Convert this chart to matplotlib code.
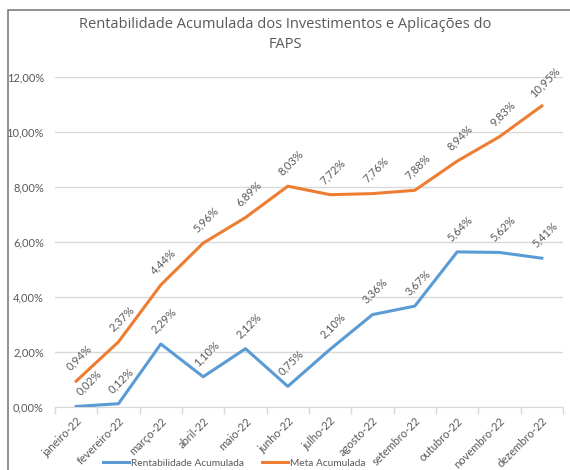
import numpy as np
import matplotlib.pyplot as plt
from matplotlib.patches import Rectangle
from matplotlib.ticker import FuncFormatter

# ============================================================================
# DONNÉES
# ============================================================================

meses = ['janeiro-22', 'fevereiro-22', 'março-22', 'abril-22', 'maio-22', 'junho-22',
         'julho-22', 'agosto-22', 'setembro-22', 'outubro-22', 'novembro-22', 'dezembro-22']
rentabilidade = [0.02, 0.12, 2.29, 1.10, 2.12, 0.75, 2.10, 3.36, 3.67, 5.64, 5.62, 5.41]
meta = [0.94, 2.37, 4.44, 5.96, 6.89, 8.03, 7.72, 7.76, 7.88, 8.94, 9.83, 10.95]

AZUL = '#5B9BD5'
LARANJA = '#ED7D31'
CINZA = '#595959'

plt.rcParams['font.family'] = ['Lato', 'DejaVu Sans']

def pct(v, pos=None):
    return f'{v:.2f}%'.replace('.', ',')

# ============================================================================
# FIGURE
# ============================================================================

fig = plt.figure(figsize=(5.7, 4.7), dpi=100)
ax = fig.add_axes([55 / 570, 1 - 407 / 470, (563 - 55) / 570, (407 - 77) / 470])

x = np.arange(len(meses))
ax.plot(x, rentabilidade, color=AZUL, lw=2.2, label='Rentabilidade Acumulada', zorder=3)
ax.plot(x, meta, color=LARANJA, lw=2.2, label='Meta Acumulada', zorder=3)

# étiquettes des valeurs (le premier point bleu est décalé pour éviter le chevauchement)
for serie in (rentabilidade, meta):
    for i, v in enumerate(serie):
        dx = 9 if (serie is rentabilidade and i == 0) else 2
        ax.annotate(pct(v), (i, v), xytext=(dx, 17), textcoords='offset points',
                    ha='center', va='center', rotation=45, fontsize=8, color=CINZA)

ax.set_xlim(-0.5, len(meses) - 0.5)
ax.set_ylim(0, 12)
ax.set_yticks(np.arange(0, 13, 2))
ax.yaxis.set_major_formatter(FuncFormatter(pct))
ax.grid(axis='y', color='#D9D9D9', lw=1)
ax.set_axisbelow(True)

ax.set_xticks(x)
ax.set_xticklabels(meses, rotation=45, ha='right', rotation_mode='anchor')
ax.set_xticks(np.arange(-0.5, len(meses)), minor=True)
ax.tick_params(axis='x', which='major', length=0, pad=6, labelsize=8, labelcolor=CINZA)
ax.tick_params(axis='x', which='minor', length=5, color='#D9D9D9', width=1)
ax.tick_params(axis='y', length=0, labelsize=8, labelcolor=CINZA, pad=8)

for s in ['top', 'right', 'left']:
    ax.spines[s].set_visible(False)
ax.spines['bottom'].set_color('#D9D9D9')

titulo = dict(ha='center', va='center', fontsize=10.5, color=CINZA,
              family=['Open Sans', 'DejaVu Sans'])
fig.text(0.5, 1 - 25 / 470, 'Rentabilidade Acumulada dos Investimentos e Aplicações do', **titulo)
fig.text(0.5, 1 - 45 / 470, 'FAPS', **titulo)

fig.legend(loc='center', bbox_to_anchor=(234 / 570, 1 - 463 / 470), ncol=2, frameon=False,
           fontsize=7.3, labelcolor=CINZA, handlelength=2.6, columnspacing=1.8,
           handletextpad=0.15)

# cadre du graphique
fig.patches.append(Rectangle((8 / 570, -0.1), 1.2, 1 - 10 / 470 + 0.1,
                             transform=fig.transFigure, fill=False,
                             edgecolor='#7F7F7F', lw=1.2))

fig.savefig('out.png', dpi=100)
